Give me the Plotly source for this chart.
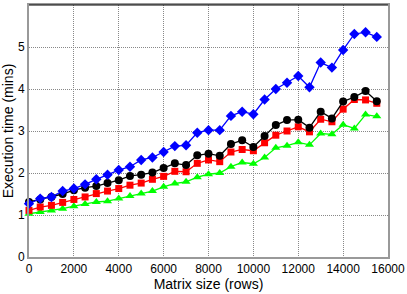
import plotly.graph_objects as go

x_rows = [i * 500 for i in range(32)]

blue = [1.27, 1.39, 1.43, 1.57, 1.63, 1.73, 1.85, 1.96, 2.07, 2.15, 2.31, 2.37, 2.50, 2.64, 2.66, 2.96,
        3.02, 3.02, 3.36, 3.46, 3.40, 3.75, 4.00, 4.15, 4.31, 4.04, 4.63, 4.51, 4.93, 5.31, 5.35, 5.24]
black = [1.31, 1.37, 1.43, 1.50, 1.59, 1.65, 1.69, 1.76, 1.83, 1.93, 1.96, 2.01, 2.12, 2.23, 2.19, 2.42,
         2.46, 2.41, 2.69, 2.78, 2.62, 2.88, 3.14, 3.26, 3.27, 3.08, 3.46, 3.30, 3.70, 3.81, 3.95, 3.71]
red = [1.11, 1.19, 1.23, 1.30, 1.37, 1.43, 1.51, 1.57, 1.63, 1.71, 1.76, 1.85, 1.92, 2.04, 2.03, 2.23,
       2.31, 2.27, 2.50, 2.56, 2.53, 2.72, 2.90, 3.00, 3.10, 2.98, 3.28, 3.22, 3.52, 3.75, 3.74, 3.66]
green = [1.03, 1.07, 1.11, 1.15, 1.21, 1.26, 1.31, 1.33, 1.39, 1.45, 1.51, 1.57, 1.67, 1.75, 1.79, 1.90,
         1.97, 2.00, 2.15, 2.25, 2.22, 2.37, 2.60, 2.65, 2.73, 2.67, 2.94, 2.92, 3.15, 3.06, 3.39, 3.35]

x_ticks = [0, 2000, 4000, 6000, 8000, 10000, 12000, 14000, 16000]
y_ticks = [0, 1, 2, 3, 4, 5, 6]

fig = go.Figure()
series = [
    (green, "#00ff00", "triangle-up", 8),
    (red, "#ff0000", "square", 7),
    (black, "#000000", "circle", 8),
    (blue, "#0000ff", "diamond", 8),
]
for ys, col, sym, sz in series:
    fig.add_trace(go.Scatter(x=x_rows, y=ys, mode="lines+markers",
                             line=dict(color=col, width=1.3),
                             marker=dict(color=col, symbol=sym, size=sz, line=dict(width=0)),
                             showlegend=False, cliponaxis=False))

fam = "Liberation Sans, Arial, sans-serif"
tick_font = dict(family=fam, size=12, color="#000")
title_font = dict(family=fam, size=14, color="#000")
grid_dash = "1px,1px"
fig.update_layout(
    width=407, height=294,
    margin=dict(l=29, r=19, t=5, b=37, autoexpand=False),
    paper_bgcolor="white", plot_bgcolor="white",
    font=tick_font,
    xaxis=dict(range=[0, 16000], tickvals=x_ticks, ticktext=[str(v) for v in x_ticks],
               showgrid=True, gridcolor="#888888", griddash=grid_dash, gridwidth=1,
               showline=True, linecolor="#999999", linewidth=2, mirror=True,
               ticks="", zeroline=False, tickfont=tick_font, automargin=False,
               title=dict(text="Matrix size (rows)", font=title_font, standoff=4)),
    yaxis=dict(range=[0, 6], tickvals=y_ticks, ticktext=[str(v) for v in y_ticks],
               showgrid=True, gridcolor="#888888", griddash=grid_dash, gridwidth=1,
               showline=True, linecolor="#999999", linewidth=2, mirror=True,
               ticks="", zeroline=False, tickfont=tick_font, automargin=False,
               title=dict(text="Execution time (mins)", font=title_font, standoff=3)),
)
fig.add_shape(type="line", xref="paper", yref="paper", x0=0, x1=1, y0=1, y1=1,
              line=dict(color="#000000", width=1))

fig.write_html("out.html", config={"displayModeBar": False},
               post_script="document.body.style.margin='0';")
